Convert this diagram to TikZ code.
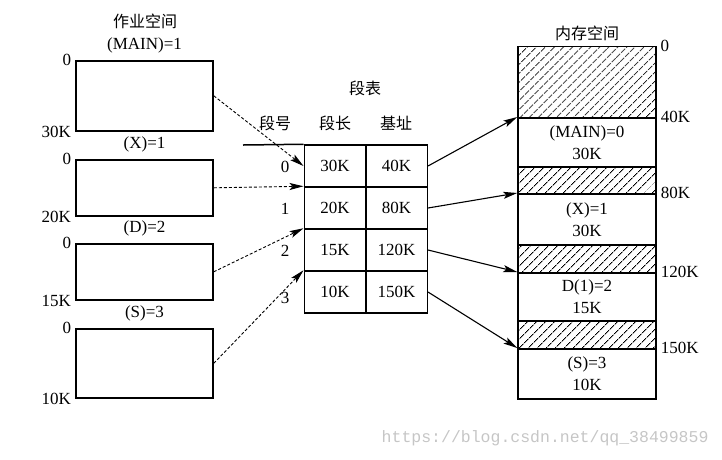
\documentclass[tikz,border=0pt]{standalone}
\usepackage{fontspec}
\setmainfont{Liberation Serif}
\setmonofont{Liberation Mono}
\newfontfamily\cjk{Noto Sans CJK SC}
\usetikzlibrary{arrows.meta,patterns.meta}

\tikzset{
  seg/.style={draw,line width=1.6pt,minimum width=137pt,inner sep=0pt},
  cell/.style={draw,line width=1.5pt,minimum width=61.5pt,minimum height=42pt,inner sep=0pt,font=\fontsize{17}{20}\selectfont},
  mem/.style={draw,line width=1.5pt,minimum width=138pt,inner sep=0pt,align=center,font=\fontsize{17}{22}\selectfont},
  hatch/.style={mem,pattern={Lines[angle=45,distance=6.5pt,line width=0.85pt]}},
  lbl/.style={font=\fontsize{17}{20}\selectfont,inner sep=1pt},
  zh/.style={font=\cjk\fontsize{16}{18}\selectfont,inner sep=0pt},
  dasharrow/.style={dash pattern=on 3pt off 2pt,line width=0.9pt,-{Stealth[length=14pt,width=7pt,inset=3pt]}},
  solidarrow/.style={line width=1.1pt,-{Stealth[length=14pt,width=7pt,inset=3pt]}}
}

\begin{document}
\begin{tikzpicture}[x=1pt,y=-1pt]
\useasboundingbox (0,0) rectangle (722,459);

% job space
\node[zh] (jobtitle) at (145,21) {作业空间};
\foreach \name/\lbl/\top/\bot/\size in {main/{(MAIN)=1}/60/130/30K, x/{(X)=1}/159/215/20K, d/{(D)=2}/243/299/15K, s/{(S)=3}/328/397/10K}
{
  \node[seg,minimum height={\bot-\top},anchor=north] (w\name) at (144.5,\top) {};
  \node[lbl] (t\name) at ([yshift=15pt]w\name.north) {\lbl};
  \node[lbl,anchor=east] (z\name) at ([xshift=-3pt]w\name.north west) {0};
  \node[lbl,anchor=east] (k\name) at ([xshift=-3pt]w\name.south west) {\size};
}

% segment table
\node[zh] (tabtitle) at (365,88) {段表};
\node[zh] (hnum) at (275,123) {段号};
\node[zh] (hlen) at (335,123) {段长};
\node[zh] (hbase) at (396,123) {基址};
\foreach \len/\base [count=\i from 0] in {30K/40K,20K/80K,15K/120K,10K/150K}
{
  \node[cell] (len\i) at (335,{166+42*\i}) {\len};
  \node[cell] (base\i) at (396.5,{166+42*\i}) {\base};
}
\node[lbl] (n0) at (285,167) {0};
\node[lbl] (n1) at (285,209) {1};
\node[lbl] (n2) at (285,251) {2};
\node[lbl] (n3) at (285,298) {3};
\coordinate (hl) at (243,145);
\draw[line width=1.5pt] (hl) -- (len0.north west);

\draw[dasharrow] (wmain.east) -- (len0.west);
\draw[dasharrow] (wx.east) -- (len1.north west);
\draw[dasharrow] (wd.east) -- (len2.north west);
\draw[dasharrow] (ws.east) -- (len3.north west);

% memory
\node[zh] (memtitle) at (587,33) {内存空间};
\foreach \top/\bot [count=\i] in {46/117,166/193,244/272,320/348}
  \node[hatch,minimum height={\bot-\top},anchor=north] (h\i) at (587,\top) {};
\foreach \name/\top/\bot/\txt in {main/117/166/{(MAIN)=0\\30K}, x/193/244/{(X)=1\\30K}, d/272/320/{D(1)=2\\15K}, s/348/398/{(S)=3\\10K}}
  \node[mem,minimum height={\bot-\top},anchor=north] (m\name) at (587,\top) {\txt};

\node[lbl,anchor=west] (a0) at ([xshift=3pt]h1.north east) {0};
\node[lbl,anchor=west] (a40) at ([xshift=3pt]mmain.north east) {40K};
\node[lbl,anchor=west] (a80) at ([xshift=3pt]mx.north east) {80K};
\node[lbl,anchor=west] (a120) at ([xshift=3pt]md.north east) {120K};
\node[lbl,anchor=west] (a150) at ([xshift=3pt]ms.north east) {150K};

\draw[solidarrow] (base0.east) -- (mmain.north west);
\draw[solidarrow] (base1.east) -- (mx.north west);
\draw[solidarrow] (base2.east) -- (md.north west);
\draw[solidarrow] (base3.east) -- (ms.north west);

\node[font=\ttfamily\fontsize{16.5}{18}\selectfont,text=gray!45,anchor=east] (url) at (712,438) {https://blog.csdn.net/qq\_38499859};
\end{tikzpicture}
\end{document}
